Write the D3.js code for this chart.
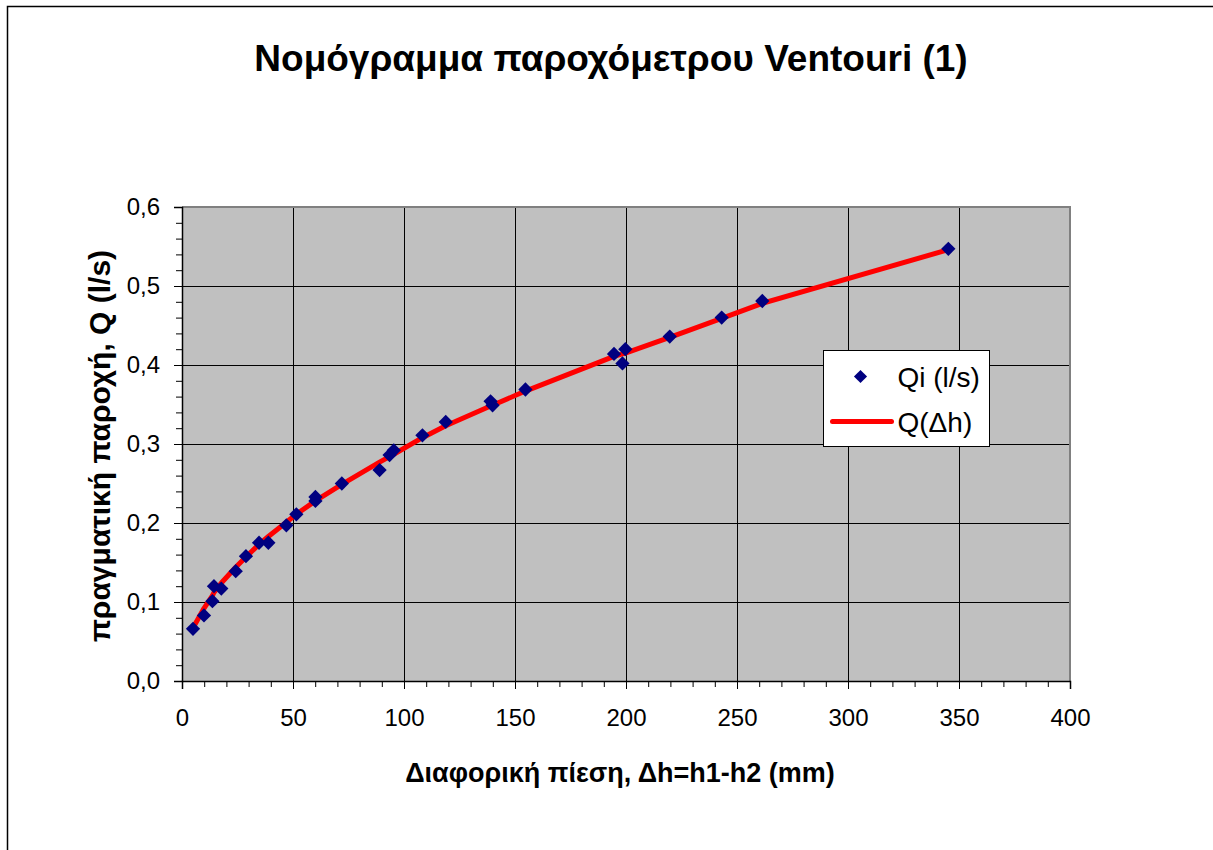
<!DOCTYPE html>
<html lang="el">
<head>
  <meta charset="UTF-8">
  <script src="https://cdn.jsdelivr.net/npm/d3@7"></script>
  <title>Ventouri</title>
  <style>
    body { margin: 0; background: #fff; }
    text { font-family: "Liberation Sans", Arial, sans-serif; }
  </style>
</head>
<body>
  <svg class="svg" width="1213" height="850"></svg>
  <script>
    // measured points Qi (l/s)
    const qiDh = [4.95, 9.9, 13.7, 14.4, 17.7, 24.2, 28.8, 34.7, 38.9, 47.0, 51.5, 60.1, 60.1, 72.0,
      89.0, 93.5, 95.4, 108.3, 118.8, 139.0, 139.9, 154.7, 194.6, 198.4, 199.7, 219.7, 243.1, 261.4, 345.2]
    const qiQ = [0.066, 0.083, 0.101, 0.120, 0.117, 0.139, 0.158, 0.175, 0.175, 0.197, 0.211, 0.233, 0.228, 0.250,
      0.267, 0.286, 0.292, 0.311, 0.328, 0.354, 0.349, 0.369, 0.414, 0.402, 0.420, 0.436, 0.460, 0.481, 0.547]

    // curve Q(Δh)
    const fitDh = [4.95, 9.9, 13.7, 14.4, 17.7, 24.2, 28.8, 34.7, 38.9, 47.0, 51.5, 60.1, 72.0, 89.0, 93.5, 95.4,
      108.3, 118.8, 139.0, 139.9, 154.7, 194.6, 198.4, 199.7, 219.7, 243.1, 261.4, 345.2]
    const fitQ = [0.067, 0.092, 0.108, 0.112, 0.124, 0.144, 0.157, 0.173, 0.183, 0.201, 0.211, 0.228, 0.249, 0.277,
      0.284, 0.287, 0.308, 0.323, 0.348, 0.349, 0.367, 0.411, 0.414, 0.415, 0.435, 0.459, 0.478, 0.546]

    const xTicks = [0, 50, 100, 150, 200, 250, 300, 350, 400]
    const yTicks = [0, 0.1, 0.2, 0.3, 0.4, 0.5, 0.6]

    const title = "Νομόγραμμα παροχόμετρου Ventouri (1)"
    const xTitle = "Διαφορική πίεση, Δh=h1-h2 (mm)"
    const yTitle = "πραγματική παροχή, Q (l/s)"
    const legendNames = ["Qi (l/s)", "Q(Δh)"]

    let svg = d3.select(".svg")
    let margin = ({top: 207, right: 143, bottom: 169, left: 182})
    let width = +svg.attr("width")
    let height = +svg.attr("height")

    let x = d3.scaleLinear().domain([0, 400]).range([margin.left, width - margin.right])
    let y = d3.scaleLinear().domain([0, 0.6]).range([height - margin.bottom, margin.top])
    let fmt = d => d3.format(".1f")(d).replace(".", ",")

    // outer chart frame
    svg.append("rect")
      .attr("x", 7.5).attr("y", 6.5)
      .attr("width", 1300).attr("height", 900)
      .attr("fill", "none").attr("stroke", "#000").attr("stroke-width", 1.5)

    // plot area
    svg.append("rect")
      .attr("x", x(0)).attr("y", y(0.6))
      .attr("width", x(400) - x(0)).attr("height", y(0) - y(0.6))
      .attr("fill", "#c0c0c0")

    // gridlines
    svg.append("g")
      .attr("stroke", "#000").attr("stroke-width", 1)
      .selectAll("line.v")
      .data(xTicks.slice(1, -1))
      .join("line")
      .attr("x1", d => Math.round(x(d)) + 0.5).attr("x2", d => Math.round(x(d)) + 0.5)
      .attr("y1", y(0.6)).attr("y2", y(0))
    svg.append("g")
      .attr("stroke", "#000").attr("stroke-width", 1)
      .selectAll("line.h")
      .data(yTicks.slice(1, -1))
      .join("line")
      .attr("x1", x(0)).attr("x2", x(400))
      .attr("y1", d => Math.round(y(d)) + 0.5).attr("y2", d => Math.round(y(d)) + 0.5)

    // plot border (grey on top / right)
    svg.append("path")
      .attr("d", `M${x(0)},${y(0.6)}H${x(400)}V${y(0)}`)
      .attr("fill", "none").attr("stroke", "#808080").attr("stroke-width", 2)

    // minor ticks
    let xMinor = d3.range(0, 401, 10)
    let yMinor = d3.range(0, 31).map(i => i * 0.02)

    let xAxis = g => g
      .attr("transform", `translate(0,${y(0)})`)
      .call(d3.axisBottom(x).tickValues(xTicks).tickSize(8).tickPadding(20).tickFormat(d3.format("d")))
      .call(g => g.selectAll("text").attr("font-size", 24).attr("font-family", null).attr("fill", "#000"))
      .call(g => g.select(".domain").attr("stroke", "#000").attr("stroke-width", 1.5))
      .call(g => g.selectAll(".tick line").attr("stroke", "#000"))

    let yAxis = g => g
      .attr("transform", `translate(${x(0)},0)`)
      .call(d3.axisLeft(y).tickValues(yTicks).tickSize(8).tickPadding(14).tickFormat(fmt))
      .call(g => g.selectAll("text").attr("font-size", 24).attr("font-family", null).attr("fill", "#000"))
      .call(g => g.select(".domain").attr("stroke", "#000").attr("stroke-width", 1.5))
      .call(g => g.selectAll(".tick line").attr("stroke", "#000"))

    svg.append("g")
      .attr("transform", `translate(0,${y(0)})`)
      .call(d3.axisBottom(x).tickValues(xMinor).tickSize(6).tickFormat(""))
      .call(g => g.select(".domain").remove())
    svg.append("g")
      .attr("transform", `translate(${x(0)},0)`)
      .call(d3.axisLeft(y).tickValues(yMinor).tickSize(6).tickFormat(""))
      .call(g => g.select(".domain").remove())

    svg.append("g").call(xAxis)
    svg.append("g").call(yAxis)

    // curve
    let line = d3.line().x(d => x(d[0])).y(d => y(d[1]))
    svg.append("path")
      .datum(d3.zip(fitDh, fitQ))
      .attr("d", line)
      .attr("fill", "none")
      .attr("stroke", "#ff0000")
      .attr("stroke-width", 5)
      .attr("stroke-linejoin", "round")

    // diamonds
    let diamond = d3.symbol().type(d3.symbolDiamond2).size(130)
    svg.append("g")
      .attr("fill", "#000080")
      .selectAll("path")
      .data(d3.zip(qiDh, qiQ))
      .join("path")
      .attr("transform", d => `translate(${x(d[0])},${y(d[1])})`)
      .attr("d", diamond)

    // titles
    svg.append("text")
      .attr("x", 611).attr("y", 71)
      .attr("text-anchor", "middle")
      .attr("font-size", 37).attr("font-weight", "bold")
      .text(title)
    svg.append("text")
      .attr("x", 620).attr("y", 782)
      .attr("text-anchor", "middle")
      .attr("font-size", 27).attr("font-weight", "bold")
      .text(xTitle)
    svg.append("text")
      .attr("transform", "translate(110,446) rotate(-90)")
      .attr("text-anchor", "middle")
      .attr("font-size", 30).attr("font-weight", "bold")
      .text(yTitle)

    // legend
    let lg = svg.append("g").attr("transform", "translate(823.5,350.5)")
    lg.append("rect")
      .attr("width", 166).attr("height", 96)
      .attr("fill", "#fff").attr("stroke", "#000").attr("stroke-width", 1)
    lg.append("path")
      .attr("transform", "translate(37,26)")
      .attr("d", d3.symbol().type(d3.symbolDiamond2).size(110))
      .attr("fill", "#000080")
    lg.append("line")
      .attr("x1", 9).attr("x2", 68).attr("y1", 71).attr("y2", 71)
      .attr("stroke", "#ff0000").attr("stroke-width", 5).attr("stroke-linecap", "round")
    lg.selectAll("text")
      .data(legendNames)
      .join("text")
      .attr("x", 74)
      .attr("y", (d, i) => 36 + i * 45)
      .attr("font-size", 28)
      .text(d => d)
  </script>
</body>
</html>
